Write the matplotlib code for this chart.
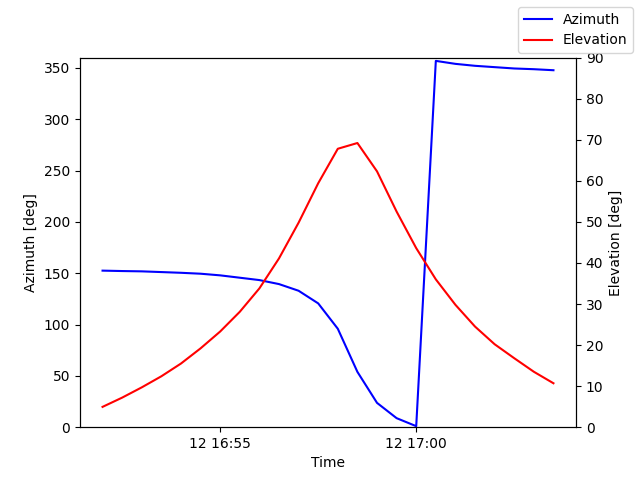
import datetime as dt
import matplotlib
matplotlib.use("Agg")
import matplotlib.pyplot as plt
import matplotlib.dates as mdates

startTime = dt.datetime(2024, 3, 12, 16, 52, 0)
stepSeconds = 30

azimuth = [152.5, 152.1, 151.8, 151.1, 150.4, 149.5, 147.9, 145.6, 143.3, 139.4,
           132.9, 120.6, 95.9, 53.9, 23.7, 8.8, 1.0, 356.8, 353.9, 352.0,
           350.7, 349.4, 348.7, 347.7]

elevation = [4.95, 7.2, 9.7, 12.4, 15.5, 19.2, 23.3, 28.1, 33.8, 41.1,
             49.8, 59.4, 67.8, 69.2, 62.3, 52.5, 43.6, 36.0, 29.8, 24.5,
             20.2, 16.8, 13.5, 10.7]

times = [startTime + dt.timedelta(seconds=stepSeconds * i) for i in range(len(azimuth))]


def main():
	fig, ax1 = plt.subplots(figsize=(6.4, 4.8), dpi=100)

	ax1.plot(times, azimuth, color="blue", label="Azimuth")
	ax1.set_ylim(0, 360)
	ax1.set_ylabel("Azimuth [deg]")
	ax1.set_xlabel("Time")

	ax2 = ax1.twinx()
	ax2.plot(times, elevation, color="red", label="Elevation")
	ax2.set_ylim(0, 90)
	ax2.set_ylabel("Elevation [deg]")

	ax1.xaxis.set_major_locator(mdates.MinuteLocator(byminute=range(0, 60, 5)))
	ax1.xaxis.set_major_formatter(mdates.DateFormatter("%d %H:%M"))

	fig.legend()
	fig.savefig("out.png")


if __name__ == '__main__':
	main()
